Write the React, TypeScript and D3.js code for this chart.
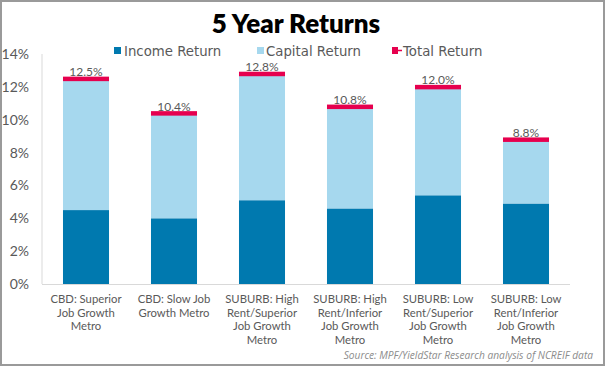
import React from "react";
import * as d3 from "d3";

const categories = [
  ["CBD: Superior", "Job Growth", "Metro"],
  ["CBD: Slow Job", "Growth Metro"],
  ["SUBURB: High", "Rent/Superior", "Job Growth", "Metro"],
  ["SUBURB: High", "Rent/Inferior", "Job Growth", "Metro"],
  ["SUBURB: Low", "Rent/Superior", "Job Growth", "Metro"],
  ["SUBURB: Low", "Rent/Inferior", "Job Growth", "Metro"],
];
const incomeReturn = [4.5, 4.0, 5.1, 4.6, 5.4, 4.9];
const capitalReturn = [8.0, 6.4, 7.7, 6.2, 6.6, 3.9];
const totalReturn = [12.5, 10.4, 12.8, 10.8, 12.0, 8.8];
const yTicks = [0, 2, 4, 6, 8, 10, 12, 14];
const seriesNames = ["Income Return", "Capital Return", "Total Return"];

const W = 605;
const H = 366;
const C_INCOME = "#0079AF";
const C_CAPITAL = "#A6D8EE";
const C_TOTAL = "#E6004E";
const TXT = "#595959";
const FONT = "Lato, 'Open Sans', sans-serif";

export default function App() {
  const idx = categories.map((_, i) => String(i));
  const x = d3.scaleBand<string>().domain(idx).range([42, 570]).paddingInner(0.477).paddingOuter(0.2385);
  const y = d3.scaleLinear().domain([0, 14]).range([284, 54]);
  const bw = x.bandwidth();

  return (
    <svg width={W} height={H} style={{ position: "absolute", left: 0, top: 0 }} fontFamily={FONT}>
      <rect x={0} y={0} width={W} height={H} fill="#fff" />
      <rect x={1} y={1} width={W - 2} height={H - 2} fill="none" stroke="#9a9a9a" strokeWidth={2} />
      <text x={296} y={33} textAnchor="middle" fontSize={26} fontWeight={800} fill="#000" fontFamily="Lato, sans-serif">
        5 Year Returns
      </text>
      {/* legend */}
      <g fontSize={13.3} fill={TXT} fontFamily="'DejaVu Sans', sans-serif">
        <rect x={114} y={47} width={7} height={7} fill={C_INCOME} />
        <text x={124} y={55.5}>{seriesNames[0]}</text>
        <rect x={257} y={47} width={7} height={7} fill={C_CAPITAL} />
        <text x={266} y={55.5}>{seriesNames[1]}</text>
        <line x1={392} x2={402} y1={50.5} y2={50.5} stroke={C_TOTAL} strokeWidth={1.5} />
        <rect x={392} y={47} width={6} height={7} fill={C_TOTAL} />
        <text x={403} y={55.5}>{seriesNames[2]}</text>
      </g>
      {/* axes */}
      <line x1={42} x2={42} y1={y(14)} y2={y(0)} stroke="#d9d9d9" strokeWidth={1} />
      <line x1={42} x2={570} y1={y(0) + 0.5} y2={y(0) + 0.5} stroke="#d9d9d9" strokeWidth={1} />
      {yTicks.map((t) => (
        <text key={t} x={29} y={y(t) + 5} textAnchor="end" fontSize={14} fill={TXT}>
          {t}%
        </text>
      ))}
      {/* bars */}
      {idx.map((k, i) => {
        const x0 = x(k)!;
        const inc = incomeReturn[i];
        const cap = capitalReturn[i];
        const tot = totalReturn[i];
        return (
          <g key={k}>
            <rect x={x0} y={y(inc)} width={bw} height={y(0) - y(inc)} fill={C_INCOME} />
            <rect x={x0} y={y(inc + cap)} width={bw} height={y(inc) - y(inc + cap)} fill={C_CAPITAL} />
            <rect x={x0} y={y(tot) - 2} width={bw} height={4.5} fill={C_TOTAL} />
            <text x={x0 + bw / 2} y={y(tot) - 2.5} textAnchor="middle" fontSize={12} fill={TXT}>
              {tot.toFixed(1)}%
            </text>
            {categories[i].map((line, j) => (
              <text key={j} x={x0 + bw / 2} y={303 + j * 13.5} textAnchor="middle" fontSize={11.3} fill={TXT}>
                {line}
              </text>
            ))}
          </g>
        );
      })}
      <text x={593} y={359} textAnchor="end" fontSize={10.2} fontStyle="italic" fill="#8c8c8c" fontFamily="'Open Sans', sans-serif">
        Source: MPF/YieldStar Research analysis of NCREIF data
      </text>
    </svg>
  );
}
